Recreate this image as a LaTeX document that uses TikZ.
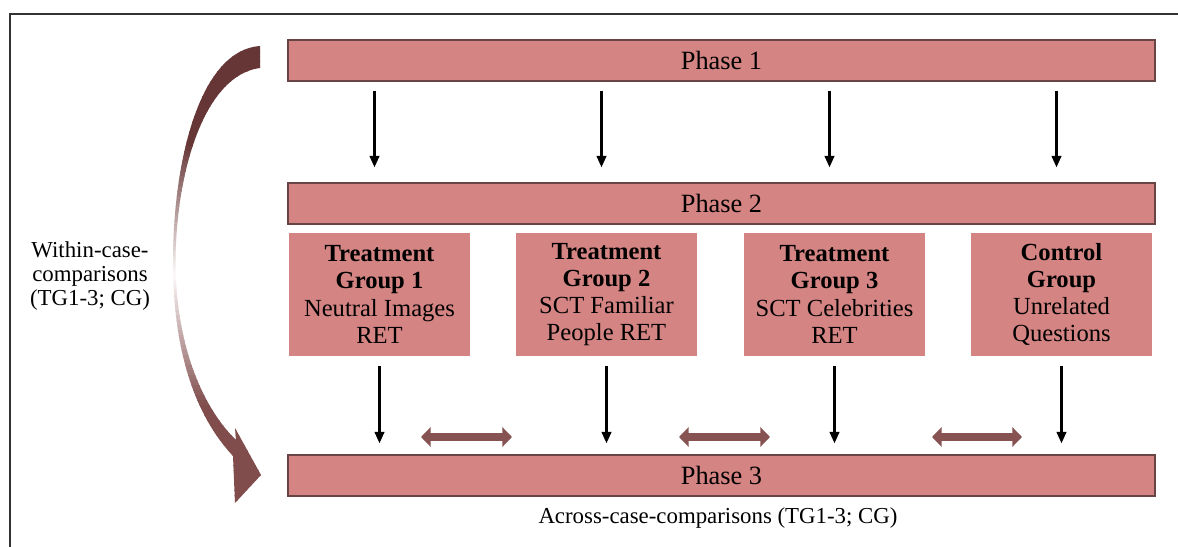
\documentclass[tikz,border=0pt]{standalone}
\usepackage{fontspec}
\setmainfont{Liberation Serif}
\usetikzlibrary{arrows.meta}

\definecolor{boxred}{RGB}{212,132,130}
\definecolor{boxedge}{RGB}{105,68,68}
\definecolor{dblbrown}{RGB}{135,82,82}
\definecolor{curvetop}{RGB}{102,54,54}
\definecolor{curvemid}{RGB}{252,248,248}
\definecolor{curvebot}{RGB}{128,76,76}

\tikzset{
  phasebar/.style={draw=boxedge, line width=0.8pt, fill=boxred, minimum width=17.34cm, minimum height=0.82cm, inner sep=0pt, font=\fontsize{15}{16}\selectfont},
  groupbox/.style={fill=boxred, minimum width=3.64cm, minimum height=2.46cm, inner sep=0pt, align=center, font=\fontsize{14}{15.5}\selectfont},
  flow/.style={-{Triangle[length=6.5pt,width=5.5pt]}, line width=1.2pt},
  compare/.style={{Triangle[length=5.5pt,width=11pt]}-{Triangle[length=5.5pt,width=11pt]}, line width=5pt, draw=dblbrown},
  sidetext/.style={align=center, font=\fontsize{13}{13.8}\selectfont}
}

\begin{document}
\begin{tikzpicture}[x=0.02cm, y=-0.02cm]
\useasboundingbox (0,0) rectangle (1178,547);

% Frame
\draw[line width=1pt, black!80] (10,547) -- (10,14) -- (1178,14);

% Phases
\node[phasebar] (p1) at (721.5,60.5) {Phase 1};
\node[phasebar] (p2) at (721.5,203.5) {Phase 2};
\node[phasebar] (p3) at (721.5,475.5) {Phase 3};

% Groups
\node[groupbox] (g1) at (379.5,294.5) {\textbf{Treatment}\\\textbf{Group 1}\\Neutral Images\\RET};
\node[groupbox] (g2) at (606.5,294.5) {\textbf{Treatment}\\\textbf{Group 2}\\SCT Familiar\\People RET};
\node[groupbox] (g3) at (834.5,294.5) {\textbf{Treatment}\\\textbf{Group 3}\\SCT Celebrities\\RET};
\node[groupbox] (g4) at (1061.5,294.5) {\textbf{Control}\\\textbf{Group}\\Unrelated\\Questions};

% Flow arrows
\foreach \g in {g1,g2,g3,g4} {
  \draw[flow, shorten <=0.18cm, shorten >=0.3cm] ([xshift=-0.1cm]\g |- p1.south) -- ([xshift=-0.1cm]\g |- p2.north);
  \draw[flow, shorten <=0.2cm, shorten >=0.22cm] (\g.south) -- (\g |- p3.north);
}

% Across-case comparison arrows
\coordinate (c1a) at (421,437); \coordinate (c1b) at (512,437);
\coordinate (c2a) at (679,437); \coordinate (c2b) at (770,437);
\coordinate (c3a) at (932,437); \coordinate (c3b) at (1022,437);
\foreach \i in {1,2,3}
  \draw[compare] (c\i a) -- (c\i b);

% Within-case curved arrow (faded in the middle)
\begin{scope}
  \clip (260,46) .. controls (200,50) and (173,160) .. (173,262)
    .. controls (173,340) and (190,410) .. (233,456)
    -- (235,503) -- (261,475) -- (235,428) -- (236,440)
    .. controls (205,410) and (176,350) .. (175.5,262)
    .. controls (176,170) and (205,75) .. (260,68) -- cycle;
  \foreach \k in {0,...,45} {
    \pgfmathtruncatemacro\mix{min(100,(275-(48.5+5*\k))/1.3)}
    \fill[curvetop!\mix!curvemid] (150,46+5*\k) rectangle (270,51.6+5*\k);
  }
  \foreach \k in {0,...,46} {
    \pgfmathtruncatemacro\mix{min(100,((277.5+5*\k)-275)/1.3)}
    \fill[curvebot!\mix!curvemid] (150,275+5*\k) rectangle (270,280.6+5*\k);
  }
\end{scope}

% Labels
\node[sidetext] (within) at (90,276) {Within-case-\\comparisons\\(TG1-3; CG)};
\node[sidetext] (across) at (718,518) {Across-case-comparisons (TG1-3; CG)};
\end{tikzpicture}
\end{document}
